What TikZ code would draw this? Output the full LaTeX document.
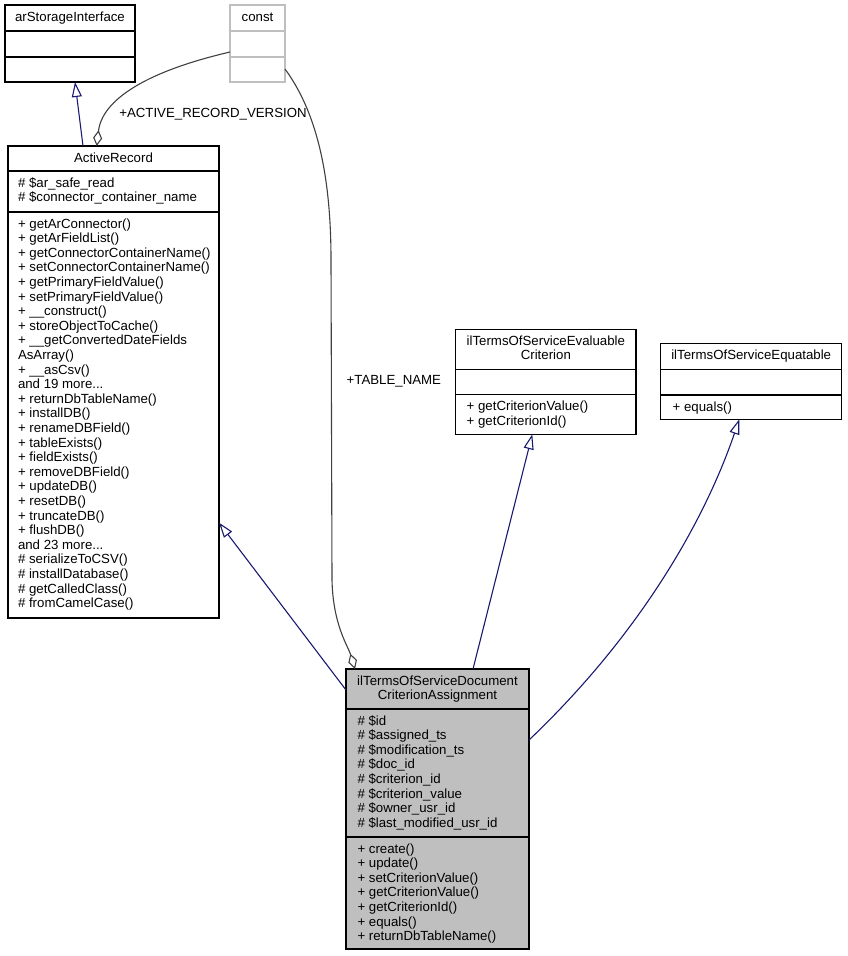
\documentclass[tikz,border=0pt]{standalone}
\usepackage{fontspec}
\setmainfont{Liberation Sans}
\usetikzlibrary{arrows.meta,calc}
\definecolor{edgeblue}{HTML}{191970}
\definecolor{agggray}{HTML}{404040}
\definecolor{grayseventyfive}{HTML}{BFBFBF}
\tikzset{
  umlbox/.style={draw=black, line width=1.1pt, inner sep=0pt, outer sep=0pt, anchor=north west},
  sepline/.style={draw=black, line width=1.1pt},
  txt/.style={inner sep=0pt, outer sep=0pt, font=\fontsize{13.25}{14.6}\selectfont},
  memb/.style={txt, anchor=north west, align=left},
  ttl/.style={txt, anchor=north, align=center},
  inherit/.style={draw=edgeblue, line width=1.1pt, -{Triangle[open,length=15pt,width=10pt]}},
  aggr/.style={draw=agggray, line width=1.1pt, {Diamond[open,length=16pt,width=9pt]}-},
  lbl/.style={txt, anchor=base west},
}
\begin{document}
\begin{tikzpicture}[x=1pt,y=-1pt]
\useasboundingbox (0,0) rectangle (847,956);

% arStorageInterface
\node[umlbox, minimum width=130pt, minimum height=77pt] (asi) at (5,5) {};
\draw[sepline] ($(asi.north west)+(0,26)$) -- ($(asi.north east)+(0,26)$);
\draw[sepline] ($(asi.north west)+(0,52)$) -- ($(asi.north east)+(0,52)$);
\node[ttl] (asi-t) at ($(asi.north)+(0,5.8)$) {\strut arStorageInterface};

% const
\node[umlbox, draw=grayseventyfive, minimum width=55pt, minimum height=77pt] (cst) at (230,5) {};
\draw[sepline, draw=grayseventyfive] ($(cst.north west)+(0,26)$) -- ($(cst.north east)+(0,26)$);
\draw[sepline, draw=grayseventyfive] ($(cst.north west)+(0,52)$) -- ($(cst.north east)+(0,52)$);
\node[ttl] (cst-t) at ($(cst.north)+(0,5.8)$) {\strut const};

% ActiveRecord
\node[umlbox, minimum width=211pt, minimum height=472pt] (ar) at (8,146) {};
\draw[sepline] ($(ar.north west)+(0,25)$) -- ($(ar.north east)+(0,25)$);
\draw[sepline] ($(ar.north west)+(0,66)$) -- ($(ar.north east)+(0,66)$);
\node[ttl] (ar-t) at ($(ar.north)+(0,5.8)$) {\strut ActiveRecord};
\node[memb] (ar-a) at ($(ar.north west)+(10,30.8)$) {\strut\# \$ar\_safe\_read\\
\# \$connector\_container\_name};
\node[memb] (ar-m) at ($(ar.north west)+(10,71.8)$) {\strut+ getArConnector()\\
+ getArFieldList()\\
+ getConnectorContainerName()\\
+ setConnectorContainerName()\\
+ getPrimaryFieldValue()\\
+ setPrimaryFieldValue()\\
+ \_\_construct()\\
+ storeObjectToCache()\\
+ \_\_getConvertedDateFields\\
AsArray()\\
+ \_\_asCsv()\\
and 19 more...\\
+ returnDbTableName()\\
+ installDB()\\
+ renameDBField()\\
+ tableExists()\\
+ fieldExists()\\
+ removeDBField()\\
+ updateDB()\\
+ resetDB()\\
+ truncateDB()\\
+ flushDB()\\
and 23 more...\\
\# serializeToCSV()\\
\# installDatabase()\\
\# getCalledClass()\\
\# fromCamelCase()};

% ilTermsOfServiceEvaluableCriterion
\node[umlbox, minimum width=180.3pt, minimum height=105pt] (ev) at (455.7,329.3) {};
\draw[sepline] ($(ev.north west)+(0,40)$) -- ($(ev.north east)+(0,40)$);
\draw[sepline] ($(ev.north west)+(0,65.4)$) -- ($(ev.north east)+(0,65.4)$);
\node[ttl] (ev-t) at ($(ev.north)+(0,5.8)$) {\strut ilTermsOfServiceEvaluable\\ Criterion};
\node[memb] (ev-m) at ($(ev.north west)+(11,71.2)$) {\strut+ getCriterionValue()\\
+ getCriterionId()};

% ilTermsOfServiceEquatable
\node[umlbox, minimum width=181pt, minimum height=76pt] (eq) at (660.7,343.3) {};
\draw[sepline] ($(eq.north west)+(0,26)$) -- ($(eq.north east)+(0,26)$);
\draw[sepline] ($(eq.north west)+(0,51.7)$) -- ($(eq.north east)+(0,51.7)$);
\node[ttl] (eq-t) at ($(eq.north)+(0,5.8)$) {\strut ilTermsOfServiceEquatable};
\node[memb] (eq-m) at ($(eq.north west)+(12,57.5)$) {\strut+ equals()};

% ilTermsOfServiceDocumentCriterionAssignment
\node[umlbox, fill=grayseventyfive, minimum width=183pt, minimum height=280pt] (bx) at (346,669) {};
\draw[sepline] ($(bx.north west)+(0,40)$) -- ($(bx.north east)+(0,40)$);
\draw[sepline] ($(bx.north west)+(0,168)$) -- ($(bx.north east)+(0,168)$);
\node[ttl] (bx-t) at ($(bx.north)+(0,5.8)$) {\strut ilTermsOfServiceDocument\\ CriterionAssignment};
\node[memb] (bx-a) at ($(bx.north west)+(11.5,45.8)$) {\strut\# \$id\\
\# \$assigned\_ts\\
\# \$modification\_ts\\
\# \$doc\_id\\
\# \$criterion\_id\\
\# \$criterion\_value\\
\# \$owner\_usr\_id\\
\# \$last\_modified\_usr\_id};
\node[memb] (bx-m) at ($(bx.north west)+(11.5,173.8)$) {\strut+ create()\\
+ update()\\
+ setCriterionValue()\\
+ getCriterionValue()\\
+ getCriterionId()\\
+ equals()\\
+ returnDbTableName()};

% waypoints
\coordinate (w1) at (332,580);
\coordinate (w2) at (331,260);

% edges
\draw[inherit] ($(ar.north west)+(75,0)$) -- ($(asi.south west)+(70,0)$);
\draw[aggr] ($(ar.north west)+(88.7,0)$) .. controls +(3.3,-27.7) and +(-120,28) .. ($(cst.north west)+(0,47)$);
\node[lbl] (lab1) at (119.3,117) {+ACTIVE\_RECORD\_VERSION};
\draw[aggr] ($(bx.north west)+(9,0)$) .. controls +(-7,-23) and +(1,45) .. (w1) -- (w2) .. controls +(0,-90) and +(30,41) .. ($(cst.north east)+(0,64)$);
\node[lbl] (lab2) at (346.7,384.7) {+TABLE\_NAME};
\draw[inherit] ($(bx.north west)+(0,21)$) -- ($(ar.north east)+(0,376.7)$);
\draw[inherit] ($(bx.north west)+(127,0)$) -- ($(ev.south west)+(76.6,0)$);
\draw[inherit] ($(bx.north east)+(0,71)$) .. controls +(105,-100) and +(-37.8,110) .. ($(eq.south west)+(78.6,0)$);
\end{tikzpicture}
\end{document}
